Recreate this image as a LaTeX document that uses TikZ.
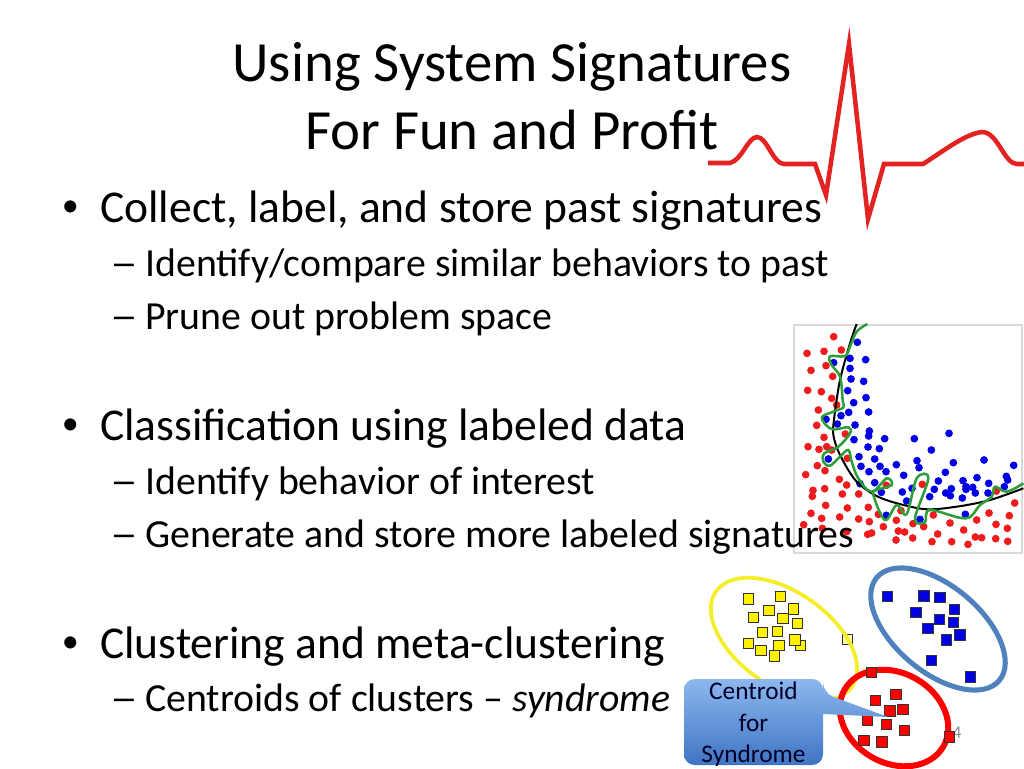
\documentclass[tikz,border=0pt]{standalone}
\usepackage{fontspec}
\setmainfont{Carlito}
\definecolor{ecgred}{HTML}{E32322}
\definecolor{dotred}{HTML}{EE1C1C}
\definecolor{dotblue}{HTML}{0000E6}
\definecolor{curvegreen}{HTML}{2E9E3A}
\definecolor{ringyellow}{HTML}{F4EE2A}
\definecolor{ringblue}{HTML}{4F81BD}
\definecolor{boxgray}{HTML}{DADADA}
\definecolor{calltop}{HTML}{8DB8EE}
\definecolor{callbottom}{HTML}{3F74C4}
\begin{document}
\begin{tikzpicture}[x=0.75pt,y=-0.75pt,
		titletext/.style={font=\fontsize{42.6}{51}\selectfont, align=center, inner sep=0pt},
		lvlone/.style={font=\fontsize{34.15}{40}\selectfont, anchor=base west, inner sep=0pt},
		lvltwo/.style={font=\fontsize{29.85}{35}\selectfont, anchor=base west, inner sep=0pt},
		dotmark/.style={font=\fontsize{25.6}{30}\selectfont, anchor=base west, inner sep=0pt},
		dashmark/.style={lvltwo, xscale=1.4},
		reddot/.style={fill=dotred},
		bluedot/.style={fill=dotblue},
		sq/.style={draw=black!80, line width=0.7pt, minimum size=7.6pt, inner sep=0pt},
		callout/.style={top color=calltop, bottom color=callbottom, draw=none},
	]
	\useasboundingbox (0,0) rectangle (1024,768);

	% scatter panel
	\draw[boxgray, line width=1.2pt] (794,325) rectangle (1022,553);
	\begin{scope}[shift={(790,435)},x=0.25pt,y=-0.25pt]
		\foreach \a/\b in {131/-295,51/-245,102/-251,154/-255,108/-208,63/-194,128/-176,53/-134,94/-130,125/-110,140/-90,85/-75,80/-29,102/7,166/-3,
			54/35,87/43,110/35,125/45,172/70,82/92,105/107,47/119,148/133,170/150,104/161,69/166,67/184,157/177,206/177,289/151,397/148,619/168,674/204,
			107/211,172/219,235/217,63/235,95/250,149/246,206/252,238/260,265/238,333/227,319/256,280/275,369/266,401/275,430/240,480/264,41/269,97/280,
			170/290,233/298,245/294,325/288,344/291,368/309,318/315,426/320,443/297,485/320,521/285,534/328,556/306,575/308,560/255,597/234,658/242,618/268,652/280,617/311,653/319}
			\fill[reddot] (\a,\b) circle[radius=2.9pt];
		\foreach \a/\b in {202/-278,180/-230,227/-226,131/-217,180/-200,183/-168,221/-161,173/-133,228/-112,191/-97,176/-68,236/-69,153/-58,108/-47,142/-33,195/-30,238/-12,236/3,192/14,284/11,373/11,477/-5,
			234/36,268/41,424/45,115/72,207/65,254/72,213/94,270/94,237/110,288/110,319/89,381/77,387/98,490/83,582/75,671/91,466/112,341/121,445/138,519/137,561/128,649/124,653/135,596/145,
			210/146,254/143,274/172,337/171,366/160,433/163,484/161,528/155,528/163,548/157,643/155,467/174,481/182,556/174,594/174,419/185,517/189,350/198,289/241,390/253,526/238}
			\fill[bluedot] (\a,\b) circle[radius=2.9pt];

		% separating curves
		\draw[black, line width=1.5pt] plot[smooth] coordinates {(200,-333) (180,-275) (150,-165) (133,-55) (130,0) (150,60) (200,140) (275,190) (400,222) (500,215) (600,195) (700,160)};
		\draw[curvegreen, line width=1.9pt] plot[smooth, tension=0.6] coordinates {(232,-333) (200,-310) (180,-265) (165,-237) (120,-236) (125,-210) (150,-175) (158,-105) (160,-83) (130,-70) (97,-55) (105,-33) (130,-17) (175,-23) (180,-5) (145,35) (103,55) (100,80) (120,92) (150,65) (175,45) (185,80) (205,130) (245,170) (290,130) (305,150) (260,165) (250,180) (285,255) (320,210) (350,237) (380,130) (415,130) (375,250) (405,262) (420,225) (527,250) (570,210) (605,185) (615,155) (650,170) (700,145)};
	\end{scope}

	% clusters
	\begin{scope}[shift={(680,560)},x=0.25pt,y=-0.25pt]
		\node[sq, fill=yellow!35] (y16) at (502,238) {};
	\end{scope}
	\draw[ringyellow, line width=2.8pt] (784,639) ellipse[x radius=83, y radius=47, rotate=-35];
	\draw[ringblue, line width=3.8pt]   (938,629) ellipse[x radius=80, y radius=43, rotate=-40];
	\draw[red, line width=4.5pt]        (894,718) ellipse[x radius=57, y radius=45, rotate=-30];
	\node[text=black!45, font=\fontsize{13.5}{16}\selectfont] (pagenum) at (957,733) {4};
	\begin{scope}[shift={(680,560)},x=0.25pt,y=-0.25pt]
		\foreach \a/\b [count=\n] in {205/117,302/110,267/152,340/147,220/173,309/175,352/190,248/218,292/215,205/250,243/272,297/257,362/257,345/240,284/288}
			\node[sq, fill=yellow] (y\n) at (\a,\b) {};
	\end{scope}
	\begin{scope}[shift={(840,560)},x=0.25pt,y=-0.25pt]
		\foreach \a/\b [count=\n] in {142/109,252/108,300/112,344/148,228/158,298/178,341/188,264/205,360/225,320/240,275/301,391/351}
			\node[sq, fill=dotblue] (b\n) at (\a,\b) {};
		\foreach \a/\b [count=\n] in {95/337,168/403,106/421,189/448,150/453,83/482,140/493,194/511,72/541,126/546,328/531}
			\node[sq, fill=red] (r\n) at (\a,\b) {};
	\end{scope}

	% callout
	\shade[callout, rounded corners=8pt] (823,714) -- (823,765) -- (684,765) -- (684,679) -- (823,679) -- (823,693) [sharp corners] -- (888,717) -- cycle;
	\node[font=\fontsize{19}{23.5}\selectfont, align=center, inner sep=0pt, text=black!85!blue] (centroid) at (753.5,724.5) {Centroid\\for\\Syndrome};

	% heartbeat
	\draw[ecgred, line width=3.4pt, line join=miter, miter limit=30] (708,163) -- (730,163) .. controls (742,160) and (748,137) .. (757,137) .. controls (767,137) and (773,164) .. (784,164) -- (815,164) -- (826,195) -- (849,44) -- (868,219) -- (884,164) -- (923,164) .. controls (945,150) and (965,134) .. (982,132) .. controls (998,132) and (1004,164) .. (1017,164) -- (1024,164);

	% title and text
	\node[titletext] (title) at (512,96) {Using System Signatures\\For Fun and Profit};
	\node[dotmark] (b1) at (61.5,216) {•};
	\node[lvlone] (t1) at (100,222) {Collect, label, and store past signatures};
	\node[dashmark] (d1) at (110,276) {–};
	\node[lvltwo] (t2) at (145,276) {Identify/compare similar behaviors to past};
	\node[dashmark] (d2) at (110,329) {–};
	\node[lvltwo] (t3) at (145,329) {Prune out problem space};
	\node[dotmark] (b2) at (61.5,434) {•};
	\node[lvlone] (t4) at (100,440) {Classification using labeled data};
	\node[dashmark] (d3) at (110,494) {–};
	\node[lvltwo] (t5) at (145,494) {Identify behavior of interest};
	\node[dashmark] (d4) at (110,547) {–};
	\node[lvltwo] (t6) at (145,547) {Generate and store more labeled signatures};
	\node[dotmark] (b3) at (61.5,652) {•};
	\node[lvlone] (t7) at (100,658) {Clustering and meta-clustering};
	\node[dashmark] (d5) at (110,711) {–};
	\node[lvltwo] (t8) at (145,711) {Centroids of clusters – \textit{syndrome}};
\end{tikzpicture}
\end{document}
